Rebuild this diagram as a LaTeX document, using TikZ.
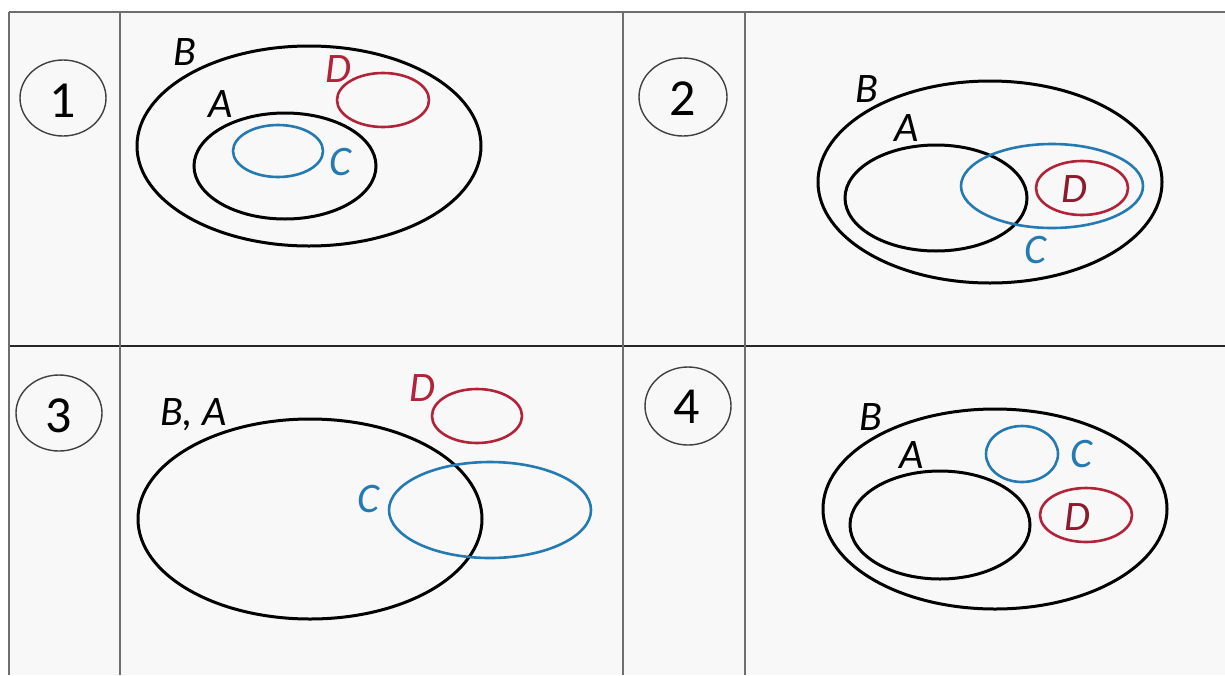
\documentclass[tikz,border=0pt]{standalone}
\usepackage{fontspec}
\setmainfont{Carlito}
\definecolor{setblue}{RGB}{38,122,178}
\definecolor{setred}{RGB}{178,34,56}
\definecolor{gridgray}{RGB}{110,110,110}
\definecolor{cellbg}{RGB}{248,248,248}
\begin{document}
\begin{tikzpicture}[x=1pt,y=-1pt,
  setline/.style={line width=3pt},
  blueset/.style={draw=setblue,line width=2.6pt},
  redset/.style={draw=setred,line width=2.6pt},
  lab/.style={anchor=base,inner sep=0pt,font=\fontsize{42}{48}\selectfont\itshape},
  num/.style={anchor=base,inner sep=0pt,font=\fontsize{52}{58}\selectfont},
  numring/.style={draw=black!75,line width=1.4pt},
  gridline/.style={draw=gridgray,line width=2pt}]
\useasboundingbox (0,0) rectangle (1225,675);
\fill[white] (0,0) rectangle (1225,675);
\fill[cellbg] (9,12) rectangle (1225,675);

% table rules
\draw[gridline] (9,12) -- (1225,12);
\draw[draw=black!85,line width=2.2pt] (9,346) -- (1225,346);
\draw[gridline] (9,12) -- (9,675);
\draw[gridline] (120,12) -- (120,675);
\draw[gridline] (623,12) -- (623,675);
\draw[gridline] (745,12) -- (745,675);

% numbering rings
\draw[numring] (63,98) ellipse (43pt and 38pt);
\node[num] (n1) at (63,117) {1};
\draw[numring] (683,97) ellipse (44pt and 39pt);
\node[num] (n2) at (683,115) {2};
\draw[numring] (59,413) ellipse (43pt and 38pt);
\node[num] (n3) at (59,432) {3};
\draw[numring] (688,406) ellipse (43pt and 39pt);
\node[num] (n4) at (687,423) {4};

% case 1
\draw[setline] (309,146) ellipse (172pt and 100pt);
\draw[setline] (285,166) ellipse (91pt and 53pt);
\draw[blueset] (278,151) ellipse (45pt and 26pt);
\draw[redset] (383,100) ellipse (46pt and 27pt);
\node[lab] (b1) at (185,65) {B};
\node[lab] (a1) at (221,117) {A};
\node[lab,text=setred] (d1) at (338,82) {D};
\node[lab,text=setblue] (c1) at (340,175) {C};

% case 2
\draw[setline] (990,182) ellipse (172pt and 101pt);
\draw[setline] (936,198) ellipse (91pt and 53pt);
\draw[blueset] (1052,186) ellipse (91pt and 42pt);
\draw[redset] (1082,188) ellipse (46pt and 27pt);
\node[lab] (b2) at (867,102) {B};
\node[lab] (a2) at (907,141) {A};
\node[lab,text=setred!80!black] (d2) at (1074,202) {D};
\node[lab,text=setblue] (c2) at (1035,263) {C};

% case 3
\draw[setline] (310,519) ellipse (172pt and 100pt);
\draw[redset] (477,416) ellipse (45pt and 27pt);
\draw[blueset] (490,510) ellipse (101pt and 48pt);
\node[lab] (ba3) at (194,425) {B, A};
\node[lab,text=setred] (d3) at (422,401) {D};
\node[lab,text=setblue] (c3) at (368,512) {C};

% case 4
\draw[setline] (995,509) ellipse (172pt and 100pt);
\draw[setline] (940,525) ellipse (90pt and 54pt);
\draw[blueset] (1022,454) ellipse (36pt and 28pt);
\draw[redset] (1086,515) ellipse (46pt and 27pt);
\node[lab] (b4) at (871,430) {B};
\node[lab] (a4) at (912,468) {A};
\node[lab,text=setblue] (c4) at (1081,467) {C};
\node[lab,text=setred!80!black] (d4) at (1077,530) {D};
\end{tikzpicture}
\end{document}
